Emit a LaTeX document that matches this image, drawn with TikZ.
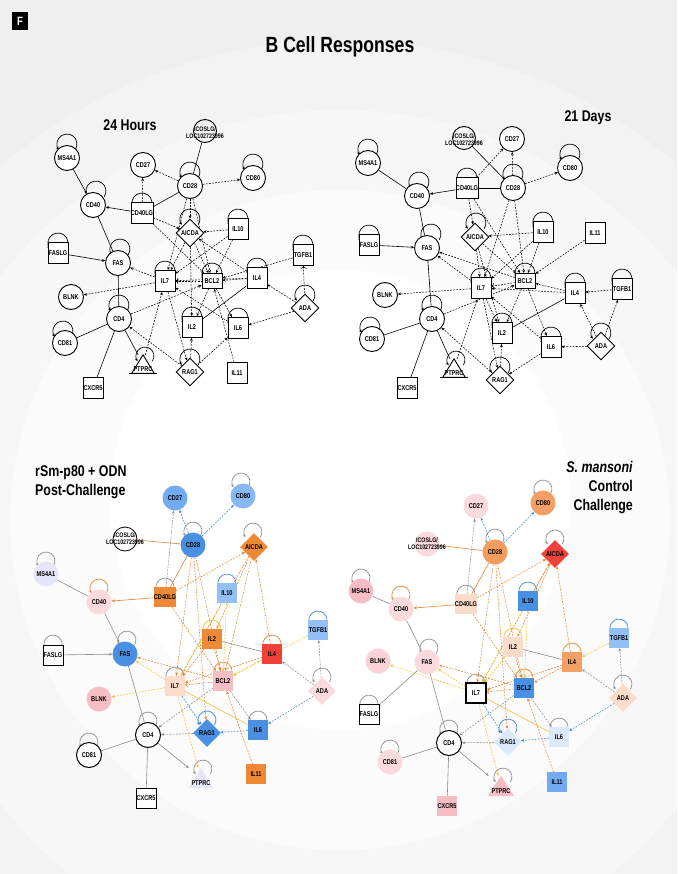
\documentclass[tikz,border=0pt]{standalone}
\usepackage{fontspec}
\setmainfont{Liberation Sans}[FakeStretch=0.8]
\usetikzlibrary{shapes.geometric,arrows.meta}
\pgfdeclarelayer{bgl}\pgfdeclarelayer{edl}\pgfsetlayers{bgl,edl,main}
\definecolor{cB}{HTML}{3D85D8}
\definecolor{cO}{HTML}{E8832E}
\definecolor{cY}{HTML}{F2C230}
\definecolor{cG}{HTML}{8C8C8C}
\definecolor{fDB}{HTML}{4A90E2}
\definecolor{fMB}{HTML}{72ABF2}
\definecolor{fLB}{HTML}{92C0F7}
\definecolor{fVLB}{HTML}{DCE8FB}
\definecolor{fOR}{HTML}{EE8A35}
\definecolor{fRD}{HTML}{F0403A}
\definecolor{fLO}{HTML}{F4A064}
\definecolor{fPE}{HTML}{FBDCCB}
\definecolor{fPK}{HTML}{F6BEC4}
\definecolor{fLP}{HTML}{FADADC}
\definecolor{fLV}{HTML}{E6E6FA}
\definecolor{bgA}{HTML}{EFEFEF}
\definecolor{bgB}{HTML}{F3F3F3}
\definecolor{bgC}{HTML}{F7F7F7}
\definecolor{bgD}{HTML}{FBFBFB}
\newcommand\nf{\fontsize{7}{8}\selectfont\bfseries}
\newcommand\icf{\fontsize{6.6}{6.8}\selectfont\bfseries}
\newcommand\sloop[4]{\draw[#4] (#1,#2) ++(-35:#3pt) arc[start angle=-35, end angle=215, radius=#3pt];}
\newcommand\dedge[3][]{\draw[ds,ar,#1] (#2) -- (#3);}
\newcommand\sedge[3][]{\draw[sl,#1] (#2) -- (#3);}
\tikzset{
 nd/.style={inner sep=0pt, font=\nf, text=black},
 cn/.style={nd, circle, draw, line width=0.9pt, fill=white, minimum size=25pt},
 sq/.style={nd, rectangle, draw, line width=0.9pt, fill=white, minimum width=20pt, minimum height=21pt},
 dm/.style={nd, diamond, draw, line width=0.9pt, fill=white, minimum width=28pt, minimum height=28pt},
 bc/.style={nd, circle, minimum size=25pt},
 bs/.style={nd, rectangle, minimum width=20pt, minimum height=20pt},
 bd/.style={nd, diamond, minimum width=28pt, minimum height=28pt},
 bcw/.style={bc, draw=black, fill=white, line width=1pt},
 bsw/.style={bs, draw=black, fill=white, line width=1pt},
 box/.style={nd, minimum width=22pt, minimum height=18pt},
 ar/.style={-{Stealth[length=3.2pt,width=2.8pt]}},
 sl/.style={line width=0.6pt},
 ds/.style={line width=0.55pt, dash pattern=on 1.8pt off 1.3pt},
 lpk/.style={line width=0.7pt, ar},
 ttl/.style={font=\fontsize{15.5}{19}\selectfont\bfseries, inner sep=0pt},
}
\begin{document}
\begin{tikzpicture}[x=1pt,y=-1pt]
\useasboundingbox (0,0) rectangle (677,874);
\begin{pgfonlayer}{bgl}
\begin{scope}
\clip (0,0) rectangle (677,874);
\fill[bgA] (0,0) rectangle (677,874);
\fill[bgB] (340,560) circle[radius=520pt];
\fill[bgC] (340,540) circle[radius=430pt];
\fill[bgD] (340,520) circle[radius=330pt];
\fill[white] (340,500) circle[radius=230pt];
\end{scope}
\end{pgfonlayer}

% header
\node[fill=black, text=white, font=\fontsize{12}{12}\selectfont\bfseries, minimum width=16pt, minimum height=18pt, inner sep=0pt] (flab) at (20,21) {F};
\node[font=\fontsize{22}{24}\selectfont\bfseries, inner sep=0pt] (title) at (340,47) {B Cell Responses};
\node[ttl] (tA) at (130,125) {24 Hours};
\node[ttl] (tB) at (588,118) {21 Days};
\node[ttl, align=left, anchor=west] (tC) at (35,482) {rSm-p80 + ODN\\Post-Challenge};
\node[ttl, align=right, anchor=east] (tD) at (633,488) {\textit{S. mansoni}\\Control\\Challenge};

% ================= Panel A : 24 Hours =================
\node[cn, minimum size=23pt, fill=none] (aICOS) at (205,131) {};
\node[nd, font=\icf, align=center] (aICOSt) at (205,133) {ICOSLG/\\LOC102723996};
\node[cn] (aMS4A1) at (67,158) {MS4A1};
\node[cn] (aCD27) at (143,165) {CD27};
\node[cn] (aCD28) at (190,186) {CD28};
\node[cn] (aCD80) at (253,178) {CD80};
\node[cn] (aCD40) at (93,205) {CD40};
\node[sq] (aCD40LG) at (142,213) {CD40LG};
\node[dm] (aAICDA) at (190,233) {AICDA};
\node[sq] (aIL10) at (238,229) {IL10};
\node[sq] (aFASLG) at (58,253) {FASLG};
\node[cn] (aFAS) at (118,263) {FAS};
\node[sq] (aTGFB1) at (303,255) {TGFB1};
\node[sq] (aIL7) at (165,281) {IL7};
\node[sq, minimum height=15pt] (aBCL2) at (212,281) {BCL2};
\node[sq] (aIL4) at (257,278) {IL4};
\node[cn] (aBLNK) at (71,297) {BLNK};
\node[dm] (aADA) at (305,308) {ADA};
\node[cn] (aCD4) at (119,319) {CD4};
\node[sq] (aIL2) at (192,327) {IL2};
\node[sq] (aIL6) at (238,328) {IL6};
\node[cn] (aCD81) at (65,343) {CD81};
\node[box] (aPTPRC) at (143,364) {};
\draw[fill=white, line width=0.9pt] (aPTPRC.south west) -- (aPTPRC.north) -- (aPTPRC.south east) -- cycle;
\draw[line width=0.9pt] ([xshift=-3pt]aPTPRC.south west) -- ([xshift=3pt]aPTPRC.south east);
\node[nd] (aPTPRCt) at (143,369) {PTPRC};
\node[dm] (aRAG1) at (190,372) {RAG1};
\node[sq] (aIL11) at (237,373) {IL11};
\node[sq] (aCXCR5) at (93,388) {CXCR5};

\begin{pgfonlayer}{edl}
\sloop{67}{144}{10}{lpk}
\sloop{190}{172}{10}{lpk}
\sloop{253}{164}{10}{lpk}
\sloop{96}{191}{10}{lpk}
\sloop{142}{203}{10}{lpk}
\sloop{190}{219}{10}{lpk}
\sloop{238}{219}{10}{lpk}
\sloop{58}{243}{10}{lpk}
\sloop{120}{249}{10}{lpk}
\sloop{303}{245}{10}{lpk}
\sloop{165}{271}{10}{lpk}
\sloop{212}{273}{10}{lpk}
\sloop{257}{268}{10}{lpk}
\sloop{305}{295}{10}{lpk}
\sloop{119}{305}{10}{lpk}
\sloop{192}{317}{10}{lpk}
\sloop{238}{318}{10}{lpk}
\sloop{63}{331}{10}{lpk}
\sloop{145}{356}{9}{lpk}
\sloop{190}{359}{10}{lpk}
\sedge{aICOS}{aCD28}
\sedge[ar]{aMS4A1}{aCD40}
\sedge[ar]{aCD40LG}{aCD40}
\sedge{aCD40LG}{aCD28}
\sedge{aCD40}{aFAS}
\sedge[ar]{aFASLG}{aFAS}
\sedge{aFAS}{aCD4}
\sedge{aCD4}{aCD81}
\sedge{aCD4}{aCXCR5}
\sedge{aCD4}{aPTPRC}
\sedge{aIL4}{aIL2}
\dedge{aCD28}{aCD27}
\dedge{aCD28}{aCD80}
\dedge{aCD40LG}{aCD27}
\dedge{aCD40LG}{aAICDA}
\dedge{aCD40LG}{aBCL2}
\dedge{aCD28}{aAICDA}
\dedge{aCD28}{aIL7}
\dedge{aCD28}{aBCL2}
\dedge{aIL10}{aAICDA}
\dedge{aAICDA}{aIL7}
\dedge{aAICDA}{aIL2}
\dedge{aAICDA}{aBCL2}
\dedge{aIL4}{aAICDA}
\dedge{aIL10}{aIL7}
\dedge{aIL10}{aBCL2}
\dedge{aIL7}{aFAS}
\dedge{aIL7}{aBLNK}
\dedge[<-]{aIL7}{aBCL2}
\dedge{aIL4}{aBCL2}
\dedge{aIL4}{aIL7}
\dedge{aTGFB1}{aBCL2}
\dedge[<-]{aTGFB1}{aADA}
\dedge{aADA}{aIL4}
\dedge{aADA}{aIL6}
\dedge{aIL6}{aIL7}
\dedge{aIL11}{aBCL2}
\dedge{aRAG1}{aCD4}
\dedge{aPTPRC}{aIL7}
\dedge{aCD4}{aBCL2}
\dedge{aRAG1}{aIL2}
\dedge{aRAG1}{aIL6}
\dedge{aBCL2}{aIL2}
\dedge{aBCL2}{aIL6}
\dedge{aIL7}{aRAG1}
\end{pgfonlayer}

% ================= Panel B : 21 Days =================
\node[cn, minimum size=23pt, fill=none] (bICOS) at (464,138) {};
\node[nd, font=\icf, align=center] (bICOSt) at (464,140) {ICOSLG/\\LOC102723996};
\node[cn] (bCD27) at (512,139) {CD27};
\node[cn] (bMS4A1) at (368,163) {MS4A1};
\node[cn] (bCD80) at (570,168) {CD80};
\node[cn] (bCD40) at (417,196) {CD40};
\node[sq] (bCD40LG) at (467,188) {CD40LG};
\node[cn] (bCD28) at (513,188) {CD28};
\node[dm] (bAICDA) at (475,237) {AICDA};
\node[sq] (bIL10) at (543,232) {IL10};
\node[sq] (bIL11) at (595,233) {IL11};
\node[sq] (bFASLG) at (369,245) {FASLG};
\node[cn] (bFAS) at (427,248) {FAS};
\node[sq] (bIL7) at (481,288) {IL7};
\node[sq, minimum height=15pt] (bBCL2) at (525,281) {BCL2};
\node[sq] (bIL4) at (575,293) {IL4};
\node[sq] (bTGFB1) at (622,289) {TGFB1};
\node[cn] (bBLNK) at (385,295) {BLNK};
\node[cn] (bCD4) at (432,319) {CD4};
\node[sq] (bIL2) at (502,333) {IL2};
\node[cn] (bCD81) at (372,339) {CD81};
\node[sq] (bIL6) at (551,347) {IL6};
\node[dm] (bADA) at (601,346) {ADA};
\node[box] (bPTPRC) at (454,368) {};
\draw[fill=white, line width=0.9pt] (bPTPRC.south west) -- (bPTPRC.north) -- (bPTPRC.south east) -- cycle;
\draw[line width=0.9pt] ([xshift=-3pt]bPTPRC.south west) -- ([xshift=3pt]bPTPRC.south east);
\node[nd] (bPTPRCt) at (454,373) {PTPRC};
\node[dm] (bRAG1) at (500,380) {RAG1};
\node[sq] (bCXCR5) at (407,388) {CXCR5};

\begin{pgfonlayer}{edl}
\sloop{368}{149}{10}{lpk}
\sloop{513}{174}{10}{lpk}
\sloop{570}{154}{10}{lpk}
\sloop{419}{182}{10}{lpk}
\sloop{467}{178}{10}{lpk}
\sloop{476}{223}{10}{lpk}
\sloop{543}{222}{10}{lpk}
\sloop{369}{235}{10}{lpk}
\sloop{431}{234}{10}{lpk}
\sloop{481}{278}{10}{lpk}
\sloop{525}{273}{10}{lpk}
\sloop{575}{283}{10}{lpk}
\sloop{622}{279}{10}{lpk}
\sloop{432}{305}{10}{lpk}
\sloop{502}{323}{10}{lpk}
\sloop{370}{327}{10}{lpk}
\sloop{551}{337}{10}{lpk}
\sloop{601}{333}{10}{lpk}
\sloop{456}{360}{9}{lpk}
\sloop{500}{367}{10}{lpk}
\sedge{bICOS}{bCD28}
\sedge{bMS4A1}{bCD40}
\sedge[ar]{bCD40LG}{bCD40}
\sedge{bCD40LG}{bCD28}
\sedge{bCD40}{bFAS}
\sedge[ar]{bFASLG}{bFAS}
\sedge{bFAS}{bCD4}
\sedge{bCD4}{bCD81}
\sedge{bCD4}{bCXCR5}
\sedge{bCD4}{bPTPRC}
\sedge{bIL4}{bIL2}
\dedge{bCD28}{bCD27}
\dedge{bCD40LG}{bCD27}
\dedge{bCD28}{bCD80}
\dedge{bCD40LG}{bAICDA}
\dedge{bCD40LG}{bBCL2}
\dedge{bCD28}{bIL7}
\dedge{bCD28}{bBCL2}
\dedge{bIL10}{bAICDA}
\dedge{bAICDA}{bIL7}
\dedge{bAICDA}{bBCL2}
\dedge{bAICDA}{bIL2}
\dedge{bIL10}{bBCL2}
\dedge{bIL10}{bIL7}
\dedge{bIL11}{bBCL2}
\dedge{bIL7}{bFAS}
\dedge{bBCL2}{bFAS}
\dedge{bIL7}{bBLNK}
\dedge[<-]{bIL7}{bBCL2}
\dedge{bIL4}{bBCL2}
\dedge{bIL4}{bIL7}
\dedge{bTGFB1}{bIL4}
\dedge{bADA}{bTGFB1}
\dedge{bADA}{bIL4}
\dedge{bADA}{bIL6}
\dedge{bIL6}{bIL7}
\dedge{bBCL2}{bIL6}
\dedge{bIL7}{bIL2}
\dedge{bBCL2}{bIL2}
\dedge{bRAG1}{bIL2}
\dedge{bIL7}{bRAG1}
\dedge{bRAG1}{bCD4}
\dedge{bCD4}{bBCL2}
\dedge{bPTPRC}{bIL7}
\dedge{bIL6}{bRAG1}
\end{pgfonlayer}

% ================= Panel C : rSm-p80 + ODN =================
\node[nd, circle, draw, line width=0.8pt, minimum size=24pt] (cICOS) at (125,539) {};
\node[nd, font=\icf, align=center] (cICOSt) at (125,539) {ICOSLG/\\LOC102723996};
\node[bc, fill=fMB] (cCD27) at (175,498) {CD27};
\node[bc, fill=fMB!85!white] (cCD80) at (243,496) {CD80};
\node[bc, fill=fDB] (cCD28) at (193,545) {CD28};
\node[bd, fill=fOR] (cAICDA) at (254,547) {AICDA};
\node[bc, fill=fLV] (cMS4A1) at (46,574) {MS4A1};
\node[bc, fill=fLP] (cCD40) at (99,602) {CD40};
\node[bs, fill=fOR] (cCD40LG) at (165,597) {CD40LG};
\node[bs, fill=fLB] (cIL10) at (227,593) {IL10};
\node[bs, fill=fLB] (cTGFB1) at (318,630) {TGFB1};
\node[bs, fill=fOR] (cIL2) at (212,639) {IL2};
\node[bsw] (cFASLG) at (53,655) {FASLG};
\node[bc, fill=fDB] (cFAS) at (125,654) {FAS};
\node[bs, fill=fRD] (cIL4) at (272,654) {IL4};
\node[bs, fill=fPE] (cIL7) at (175,686) {IL7};
\node[bs, fill=fPK] (cBCL2) at (223,681) {BCL2};
\node[bd, fill=fLP] (cADA) at (322,691) {ADA};
\node[bc, fill=fPK] (cBLNK) at (99,699) {BLNK};
\node[bcw] (cCD4) at (148,735) {CD4};
\node[bd, fill=fDB] (cRAG1) at (207,733) {RAG1};
\node[bs, fill=fDB] (cIL6) at (258,730) {IL6};
\node[bcw] (cCD81) at (89,755) {CD81};
\node[box, minimum width=24pt, minimum height=20pt] (cPTPRC) at (201,778) {};
\fill[fLV] (cPTPRC.south west) -- (cPTPRC.north) -- (cPTPRC.south east) -- cycle;
\node[nd] (cPTPRCt) at (201,783) {PTPRC};
\node[bs, fill=fOR] (cIL11) at (256,774) {IL11};
\node[bsw] (cCXCR5) at (146,798) {CXCR5};

\begin{pgfonlayer}{edl}
\sloop{241}{482}{9}{lpk,cG}
\sloop{193}{531}{9}{lpk,cG}
\sloop{253}{532}{9}{lpk,cG}
\sloop{46}{561}{9}{lpk,cG}
\sloop{99}{588}{9}{lpk,cO}
\sloop{165}{587}{9}{lpk,cG}
\sloop{227}{583}{9}{lpk,cB}
\sloop{318}{620}{9}{lpk,cB}
\sloop{212}{629}{9}{lpk,cY}
\sloop{53}{644}{9}{lpk,cG}
\sloop{127}{640}{9}{lpk,cG}
\sloop{272}{644}{9}{lpk,cO}
\sloop{175}{676}{9}{lpk,cG}
\sloop{223}{671}{9}{lpk,cO}
\sloop{322}{677}{9}{lpk,cG}
\sloop{258}{720}{9}{lpk,cG}
\sloop{207}{720}{9}{lpk,cB}
\sloop{148}{721}{9}{lpk,cG}
\sloop{89}{742}{9}{lpk,cG}
\sloop{203}{769}{9}{lpk,cG}
\sedge[cO]{cICOS}{cCD28}
\sedge[cO]{cCD40LG}{cCD28}
\sedge[cO,ar]{cCD40LG}{cCD40}
\sedge[cG]{cMS4A1}{cCD40}
\sedge[cG,ar]{cCD40}{cFAS}
\sedge[cG,ar]{cFASLG}{cFAS}
\sedge[cG]{cFAS}{cCD4}
\sedge[cG]{cCD4}{cCD81}
\sedge[cG]{cCD4}{cCXCR5}
\sedge[cG,ar]{cCD4}{cPTPRC}
\sedge[cG]{cIL2}{cIL4}
\sedge[cY]{cIL7}{cIL6}
\dedge[cB]{cCD28}{cCD27}
\dedge[cB]{cCD28}{cCD80}
\dedge[cG]{cCD40LG}{cCD27}
\dedge[cO]{cCD40LG}{cAICDA}
\dedge[cO]{cCD40LG}{cBCL2}
\dedge[cO]{cCD28}{cIL7}
\dedge[cO]{cCD28}{cBCL2}
\dedge[cO]{cCD28}{cRAG1}
\dedge[cO]{cAICDA}{cIL2}
\dedge[cO]{cAICDA}{cIL7}
\dedge[cO]{cAICDA}{cBCL2}
\dedge[cO]{cIL4}{cAICDA}
\dedge[cY]{cIL10}{cIL7}
\dedge[cY]{cIL10}{cBCL2}
\dedge[cY]{cTGFB1}{cBCL2}
\dedge[cG]{cADA}{cTGFB1}
\dedge[cG]{cADA}{cIL4}
\dedge[cB]{cADA}{cIL6}
\dedge[cB]{cIL6}{cRAG1}
\dedge[cG]{cRAG1}{cCD4}
\dedge[cG]{cBCL2}{cCD4}
\dedge[cY]{cIL7}{cFAS}
\dedge[cO]{cBCL2}{cFAS}
\dedge[cY]{cIL7}{cBLNK}
\dedge[cY]{cIL7}{cPTPRC}
\dedge[cB]{cIL7}{cRAG1}
\dedge[cO]{cIL4}{cIL7}
\dedge[cY]{cIL4}{cBCL2}
\dedge[cO]{cIL2}{cIL7}
\dedge[cO]{cIL2}{cBCL2}
\dedge[cG]{cBCL2}{cIL6}
\dedge[cO]{cIL11}{cBCL2}
\dedge[cO,<-]{cIL7}{cBCL2}
\end{pgfonlayer}

% ================= Panel D : S. mansoni =================
\node[bc, fill=fLP] (dICOS) at (427,544) {};
\node[nd, font=\icf, align=center] (dICOSt) at (427,544) {ICOSLG/\\LOC102723996};
\node[bc, fill=fLP] (dCD27) at (476,506) {CD27};
\node[bc, fill=fLO] (dCD80) at (543,503) {CD80};
\node[bc, fill=fLO!80!fOR] (dCD28) at (495,552) {CD28};
\node[bd, fill=fRD] (dAICDA) at (555,554) {AICDA};
\node[bc, fill=fPK] (dMS4A1) at (361,591) {MS4A1};
\node[bc, fill=fLP] (dCD40) at (401,609) {CD40};
\node[bs, fill=fPE] (dCD40LG) at (466,604) {CD40LG};
\node[bs, fill=fDB] (dIL10) at (528,601) {IL10};
\node[bs, fill=fLB] (dTGFB1) at (619,638) {TGFB1};
\node[bs, fill=fPE] (dIL2) at (513,647) {IL2};
\node[bc, fill=fPK!70!white] (dBLNK) at (378,661) {BLNK};
\node[bc, fill=fLP] (dFAS) at (427,662) {FAS};
\node[bs, fill=fLO] (dIL4) at (572,662) {IL4};
\node[bsw, line width=1.3pt] (dIL7) at (476,693) {IL7};
\node[bs, fill=fDB] (dBCL2) at (524,688) {BCL2};
\node[bd, fill=fPE] (dADA) at (623,698) {ADA};
\node[bsw] (dFASLG) at (369,714) {FASLG};
\node[bcw] (dCD4) at (449,743) {CD4};
\node[bd, fill=fVLB] (dRAG1) at (508,742) {RAG1};
\node[bs, fill=fVLB] (dIL6) at (559,737) {IL6};
\node[bc, fill=fLP] (dCD81) at (390,762) {CD81};
\node[bs, fill=fMB] (dIL11) at (557,782) {IL11};
\node[box, minimum width=26pt, minimum height=20pt] (dPTPRC) at (501,786) {};
\fill[fPK] (dPTPRC.south west) -- (dPTPRC.north) -- (dPTPRC.south east) -- cycle;
\node[nd] (dPTPRCt) at (501,791) {PTPRC};
\node[bs, fill=fPK] (dCXCR5) at (447,806) {CXCR5};

\begin{pgfonlayer}{edl}
\sloop{543}{489}{9}{lpk,cG}
\sloop{495}{538}{9}{lpk,cG}
\sloop{555}{539}{9}{lpk,cG}
\sloop{361}{578}{9}{lpk,cG}
\sloop{401}{595}{9}{lpk,cO}
\sloop{466}{594}{9}{lpk,cG}
\sloop{528}{591}{9}{lpk,cB}
\sloop{619}{628}{9}{lpk,cB}
\sloop{513}{637}{9}{lpk,cY}
\sloop{429}{648}{9}{lpk,cG}
\sloop{572}{652}{9}{lpk,cO}
\sloop{476}{683}{9}{lpk,cG}
\sloop{524}{678}{9}{lpk,cO}
\sloop{623}{684}{9}{lpk,cG}
\sloop{369}{704}{9}{lpk,cG}
\sloop{449}{729}{9}{lpk,cG}
\sloop{508}{728}{9}{lpk,cB}
\sloop{559}{727}{9}{lpk,cG}
\sloop{390}{749}{9}{lpk,cG}
\sloop{503}{777}{9}{lpk,cG}
\sedge[cO]{dICOS}{dCD28}
\sedge[cO]{dCD40LG}{dCD28}
\sedge[cO,ar]{dCD40LG}{dCD40}
\sedge[cG]{dMS4A1}{dCD40}
\sedge[cG]{dCD40}{dFAS}
\sedge[cG]{dFASLG}{dFAS}
\sedge[cG]{dFAS}{dCD4}
\sedge[cG]{dCD4}{dCD81}
\sedge[cG]{dCD4}{dCXCR5}
\sedge[cG,ar]{dCD4}{dPTPRC}
\sedge[cG]{dIL2}{dIL4}
\sedge[cY]{dIL7}{dIL6}
\dedge[cB]{dCD28}{dCD27}
\dedge[cB]{dCD28}{dCD80}
\dedge[cG]{dCD40LG}{dCD27}
\dedge[cO]{dCD40LG}{dAICDA}
\dedge[cO]{dCD40LG}{dBCL2}
\dedge[cO]{dCD28}{dIL7}
\dedge[cO]{dCD28}{dBCL2}
\dedge[cO]{dCD28}{dRAG1}
\dedge[cO]{dAICDA}{dIL2}
\dedge[cO]{dAICDA}{dIL7}
\dedge[cO]{dIL10}{dAICDA}
\dedge[cO]{dIL4}{dAICDA}
\dedge[cY]{dIL10}{dIL7}
\dedge[cY]{dIL10}{dBCL2}
\dedge[cY]{dTGFB1}{dIL4}
\dedge[cG]{dADA}{dTGFB1}
\dedge[cG]{dADA}{dIL4}
\dedge[cB]{dADA}{dIL6}
\dedge[cB]{dIL6}{dRAG1}
\dedge[cG]{dRAG1}{dCD4}
\dedge[cG]{dBCL2}{dCD4}
\dedge[cY]{dIL7}{dFAS}
\dedge[cO]{dBCL2}{dFAS}
\dedge[cY]{dIL7}{dBLNK}
\dedge[cY]{dIL7}{dPTPRC}
\dedge[cB]{dIL7}{dRAG1}
\dedge[cO]{dIL4}{dIL7}
\dedge[cO]{dIL4}{dBCL2}
\dedge[cY]{dIL2}{dIL7}
\dedge[cO]{dIL2}{dBCL2}
\dedge[cG]{dBCL2}{dIL6}
\dedge[cO]{dIL11}{dBCL2}
\dedge[cO,<-]{dIL7}{dBCL2}
\end{pgfonlayer}
\end{tikzpicture}
\end{document}
